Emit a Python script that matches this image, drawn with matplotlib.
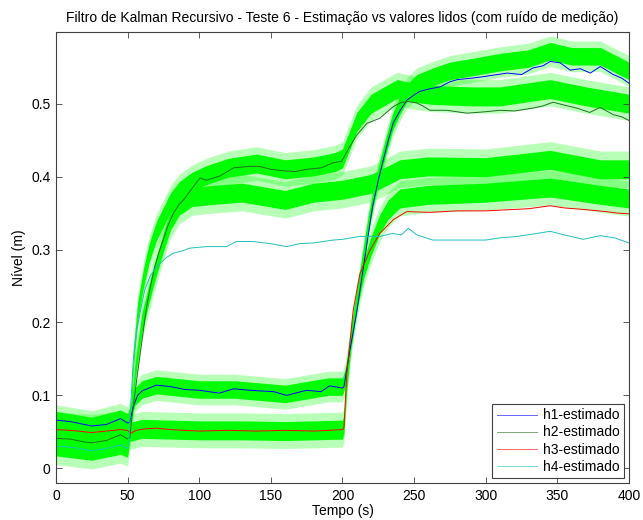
import matplotlib
matplotlib.use("Agg")
import matplotlib.pyplot as plt
import numpy as np

plt.rcParams["font.family"] = ["Liberation Sans", "DejaVu Sans"]
plt.rcParams["font.size"] = 10

# --- estimated levels (Kalman filter output) ---
t_h1 = [0, 10, 20, 25, 35, 45, 50, 51.5, 54, 57, 60, 65, 70, 80, 90, 100, 114, 124, 135, 152,
        161, 175, 185, 191, 200, 201, 205, 210, 214, 218, 221, 225, 228.5, 232, 235.5, 240, 245,
        250, 254, 260, 268, 275, 280, 290, 298, 315, 325, 333, 340, 345, 352, 359, 366, 373, 380,
        389, 395, 400]
h1_est = [0.066, 0.064, 0.060, 0.058, 0.060, 0.068, 0.062, 0.063, 0.085, 0.100, 0.106, 0.110,
          0.114, 0.112, 0.108, 0.107, 0.103, 0.109, 0.107, 0.105, 0.100, 0.107, 0.105, 0.113,
          0.110, 0.112, 0.160, 0.215, 0.268, 0.320, 0.359, 0.395, 0.423, 0.450, 0.474, 0.490,
          0.505, 0.512, 0.517, 0.520, 0.523, 0.530, 0.533, 0.535, 0.537, 0.542, 0.540, 0.549,
          0.552, 0.558, 0.556, 0.546, 0.548, 0.542, 0.551, 0.540, 0.535, 0.528]

t_h2 = [0, 10, 20, 25, 35, 45, 50, 51.5, 53, 56.3, 60, 63.3, 66, 69, 72, 74.8, 78, 82, 86, 89,
        95.8, 100.5, 105, 114.5, 124, 135, 142, 150, 158.6, 167, 175, 185, 193.5, 199.4, 205,
        210, 217, 226, 235.4, 241.3, 246, 251.8, 256, 261, 272.7, 286.7, 300, 310, 320, 333,
        340, 347, 355, 363.5, 372.6, 379.8, 389, 395, 400]
h2_est = [0.041, 0.040, 0.036, 0.035, 0.038, 0.046, 0.040, 0.042, 0.070, 0.121, 0.175, 0.222,
          0.250, 0.277, 0.297, 0.313, 0.332, 0.350, 0.362, 0.368, 0.386, 0.398, 0.395, 0.401,
          0.412, 0.414, 0.414, 0.410, 0.408, 0.407, 0.410, 0.412, 0.419, 0.421, 0.441, 0.457,
          0.473, 0.480, 0.496, 0.502, 0.503, 0.501, 0.497, 0.491, 0.491, 0.487, 0.489, 0.491,
          0.490, 0.494, 0.497, 0.502, 0.498, 0.494, 0.488, 0.495, 0.485, 0.482, 0.477]

t_h3 = [0, 10, 20, 25, 35, 45, 50, 52, 56, 62, 70, 80, 100, 120, 140, 160, 180, 200, 201,
        203, 207.5, 212.2, 219.2, 226, 235.5, 244.8, 261, 279.6, 300, 310, 330, 345, 355, 368,
        384, 392, 400]
h3_est = [0.053, 0.052, 0.050, 0.049, 0.051, 0.053, 0.052, 0.048, 0.052, 0.054, 0.055, 0.053,
          0.051, 0.052, 0.051, 0.052, 0.051, 0.053, 0.055, 0.130, 0.217, 0.267, 0.299, 0.322,
          0.341, 0.352, 0.351, 0.353, 0.353, 0.354, 0.356, 0.360, 0.357, 0.355, 0.352, 0.350,
          0.349]

t_h4 = [0, 10, 20, 25, 35, 45, 50, 51, 52, 54, 56, 58.6, 62, 65.6, 69, 72.6, 77, 82, 88, 93.5,
        105, 119, 126, 137.6, 150, 161, 170, 179.6, 193.5, 200, 212.2, 226, 235, 241, 246, 252,
        263, 272.7, 287, 300, 310, 322, 335.5, 345, 355, 368, 380, 390, 400]
h4_est = [0.030, 0.029, 0.026, 0.024, 0.027, 0.032, 0.027, 0.045, 0.080, 0.149, 0.185, 0.213,
          0.245, 0.263, 0.273, 0.281, 0.289, 0.295, 0.298, 0.302, 0.304, 0.304, 0.311, 0.311,
          0.308, 0.304, 0.308, 0.309, 0.313, 0.314, 0.318, 0.318, 0.322, 0.320, 0.329, 0.320,
          0.313, 0.313, 0.313, 0.313, 0.316, 0.318, 0.322, 0.325, 0.320, 0.314, 0.319, 0.316,
          0.309]

# --- measured levels (noisy): centre of the band and its spread ---
tm_h1 = [0, 25, 45, 50, 52, 55, 60, 70, 100, 125, 160, 190, 200, 202, 206, 210, 214, 218, 222,
         226, 230, 235, 240, 245, 252, 263, 275, 290, 310, 330, 345, 360, 380, 400]
h1_meas = [0.066, 0.058, 0.068, 0.063, 0.075, 0.098, 0.108, 0.114, 0.108, 0.108, 0.102, 0.112,
           0.112, 0.125, 0.180, 0.230, 0.285, 0.335, 0.375, 0.410, 0.440, 0.475, 0.497, 0.515,
           0.528, 0.537, 0.545, 0.550, 0.557, 0.562, 0.572, 0.565, 0.565, 0.545]

tm_h2 = [0, 25, 45, 50, 52, 54, 57, 61, 65, 70, 75, 80, 86, 95, 105, 120, 140, 160, 180, 195,
         200, 205, 210, 220, 238, 250, 263, 290, 310, 345, 370, 400]
h2_meas = [0.042, 0.036, 0.047, 0.042, 0.060, 0.150, 0.215, 0.260, 0.295, 0.325, 0.345, 0.365,
           0.380, 0.393, 0.402, 0.412, 0.418, 0.410, 0.414, 0.420, 0.425, 0.450, 0.475, 0.500,
           0.520, 0.515, 0.512, 0.510, 0.510, 0.520, 0.510, 0.500]

tm_h3 = [0, 25, 45, 50, 52, 60, 100, 130, 160, 200, 201, 203, 206, 210, 215, 220, 226, 232, 240,
         260, 300, 345, 380, 400]
h3_meas = [0.053, 0.050, 0.054, 0.052, 0.050, 0.054, 0.052, 0.052, 0.051, 0.053, 0.060, 0.120,
           0.180, 0.230, 0.275, 0.305, 0.335, 0.355, 0.370, 0.375, 0.378, 0.385, 0.375, 0.370]

tm_h4 = [0, 25, 45, 50, 52, 55, 60, 65, 68, 75, 80, 86, 95, 110, 130, 160, 180, 200, 220, 240,
         260, 300, 345, 380, 400]
h4_meas = [0.030, 0.024, 0.032, 0.028, 0.060, 0.130, 0.200, 0.240, 0.263, 0.310, 0.340, 0.360,
           0.372, 0.375, 0.378, 0.368, 0.378, 0.382, 0.390, 0.410, 0.414, 0.413, 0.423, 0.410,
           0.410]

noise_core = [0.012, 0.013, 0.013, 0.013]
noise_peak = [0.021, 0.023, 0.024, 0.025]

labels = ["h1-estimado", "h2-estimado", "h3-estimado", "h4-estimado"]
colors = ["#0000ff", "#1f6f1f", "#ff0000", "#20c0c0"]

x_ticks = [0, 50, 100, 150, 200, 250, 300, 350, 400]
y_ticks = [0, 0.1, 0.2, 0.3, 0.4, 0.5]
y_labels = ["0", "0.1", "0.2", "0.3", "0.4", "0.5"]

fig = plt.figure(figsize=(6.43, 5.2), dpi=100)
ax = fig.add_axes([0.0871, 0.0706, 0.8911, 0.8688])

# noisy measurements drawn as bands
meas = [(tm_h1, h1_meas), (tm_h2, h2_meas), (tm_h3, h3_meas), (tm_h4, h4_meas)]
for (tm, m), core, peak in zip(meas, noise_core, noise_peak):
    m = np.array(m)
    ax.fill_between(tm, m - peak, m + peak, color="#00ff00", alpha=0.28, linewidth=0)
for (tm, m), core, peak in zip(meas, noise_core, noise_peak):
    m = np.array(m)
    ax.fill_between(tm, m - core, m + core, color="#00ff00", linewidth=0)

# estimates
est = [(t_h1, h1_est), (t_h2, h2_est), (t_h3, h3_est), (t_h4, h4_est)]
for (t, h), c, lab in zip(est, colors, labels):
    ax.plot(t, h, color=c, linewidth=0.7, label=lab)

ax.set_xlim(0, 400)
ax.set_ylim(-0.0206, 0.599)
ax.set_xticks(x_ticks)
ax.set_yticks(y_ticks)
ax.set_yticklabels(y_labels)
ax.tick_params(direction="in", top=True, right=True, length=4, width=0.6, colors="#404040",
               labelcolor="black", labelsize=10, pad=4)
for sp in ax.spines.values():
    sp.set_color("#404040")
    sp.set_linewidth(0.8)

ax.set_title("Filtro de Kalman Recursivo - Teste 6 - Estimação vs valores lidos (com ruído de medição)",
             fontsize=10, pad=7)
ax.set_xlabel("Tempo (s)", fontsize=10, labelpad=1)
ax.set_ylabel("Nível (m)", fontsize=10, labelpad=4)

leg = ax.legend(loc="lower right", fancybox=False, framealpha=1, edgecolor="#404040",
                handlelength=2.9, labelspacing=0.22, borderaxespad=0.35, borderpad=0.35,
                handletextpad=0.4, fontsize=10)
leg.get_frame().set_linewidth(0.8)
for ln in leg.get_lines():
    ln.set_alpha(0.6)

fig.savefig("out.png", dpi=100)
